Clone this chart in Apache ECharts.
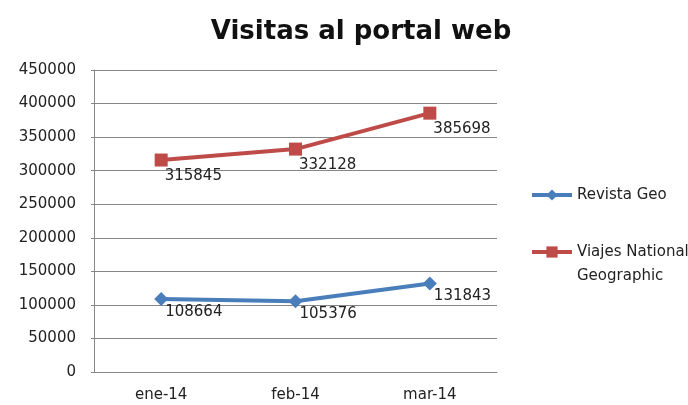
<!DOCTYPE html>
<html>
<head>
<meta charset="utf-8">
<script src="https://cdn.jsdelivr.net/npm/echarts@6/dist/echarts.min.js"></script>
<style>
  html, body { margin: 0; padding: 0; background: #fff; }
  #chart { width: 688px; height: 405px; }
</style>
</head>
<body>
<div id="chart"></div>
<script>
const months = ['ene-14', 'feb-14', 'mar-14'];
const revistaGeo = [108664, 105376, 131843];
const viajesNG = [315845, 332128, 385698];
const seriesNames = ['Revista Geo', 'Viajes National Geographic'];
// legend text: first line sits level with the icon
const legendLabels = {
  'Revista Geo': 'Revista Geo',
  'Viajes National Geographic': ' \nViajes National\nGeographic'
};

const labelFont = { fontFamily: 'DejaVu Sans', fontSize: 15, color: '#222' };

const chart = echarts.init(document.getElementById('chart'));

chart.setOption({
  backgroundColor: '#fff',
  animation: false,
  title: {
    text: 'Visitas al portal web',
    left: 356,
    textAlign: 'center',
    top: 14,
    textStyle: { fontFamily: 'DejaVu Sans', fontWeight: 'bold', fontSize: 26, color: '#111' }
  },
  legend: {
    orient: 'vertical',
    left: 530,
    top: 183,
    padding: 0,
    itemWidth: 40,
    itemHeight: 14,
    itemGap: 9,
    data: seriesNames,
    lineStyle: { width: 4 },
    formatter: name => legendLabels[name] || name,
    textStyle: { fontFamily: 'DejaVu Sans', fontSize: 15, color: '#222', lineHeight: 24 }
  },
  grid: { left: 94, right: 191, top: 70, bottom: 33 },
  xAxis: {
    type: 'category',
    data: months,
    boundaryGap: true,
    axisLine: { lineStyle: { color: '#868686' } },
    axisTick: { show: false },
    axisLabel: { margin: 16, ...labelFont }
  },
  yAxis: {
    type: 'value',
    min: 0,
    max: 450000,
    interval: 50000,
    axisLine: { show: true, lineStyle: { color: '#868686' } },
    axisTick: { show: true, length: 3, lineStyle: { color: '#868686' } },
    axisLabel: { margin: 18, formatter: v => String(v), ...labelFont },
    splitLine: { lineStyle: { color: '#868686' } }
  },
  series: [
    {
      name: seriesNames[0],
      type: 'line',
      data: revistaGeo,
      symbol: 'diamond',
      symbolSize: 14,
      lineStyle: { width: 4, color: '#4a7ebb' },
      itemStyle: { color: '#4a7ebb' },
      label: { show: true, position: 'right', distance: 0, offset: [-3, 13], ...labelFont }
    },
    {
      name: seriesNames[1],
      type: 'line',
      data: viajesNG,
      symbol: 'rect',
      symbolSize: 13,
      lineStyle: { width: 4, color: '#be4b48' },
      itemStyle: { color: '#be4b48' },
      label: { show: true, position: 'right', distance: 0, offset: [-3, 16], ...labelFont }
    }
  ]
});
</script>
</body>
</html>
